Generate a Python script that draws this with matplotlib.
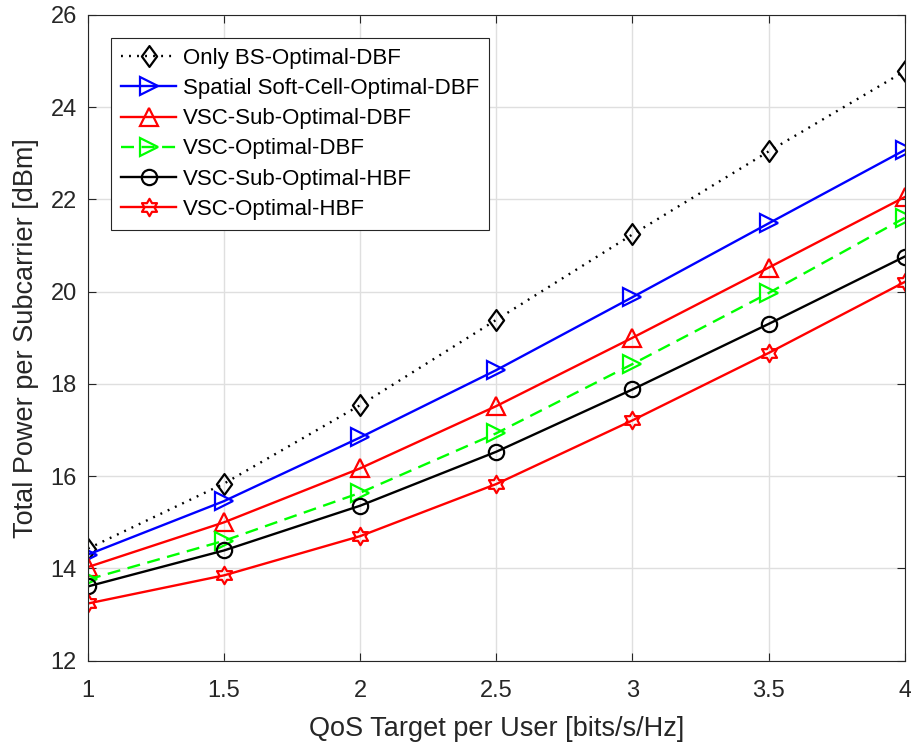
import matplotlib.pyplot as plt
from matplotlib.path import Path
import numpy as np

plt.rcParams['font.family'] = ['Liberation Sans', 'DejaVu Sans']

# QoS target per user [bits/s/Hz]
qos = [1, 1.5, 2, 2.5, 3, 3.5, 4]

# total power per subcarrier [dBm]
only_bs_dbf = [14.43, 15.84, 17.54, 19.39, 21.24, 23.04, 24.78]
soft_cell_dbf = [14.30, 15.46, 16.84, 18.30, 19.88, 21.48, 23.07]
vsc_sub_dbf = [14.03, 15.00, 16.17, 17.52, 19.00, 20.52, 22.05]
vsc_opt_dbf = [13.76, 14.60, 15.64, 16.93, 18.43, 19.97, 21.60]
vsc_sub_hbf = [13.61, 14.39, 15.36, 16.53, 17.88, 19.30, 20.76]
vsc_opt_hbf = [13.24, 13.85, 14.70, 15.83, 17.21, 18.67, 20.21]

labels = ['Only BS-Optimal-DBF', 'Spatial Soft-Cell-Optimal-DBF',
          'VSC-Sub-Optimal-DBF', 'VSC-Optimal-DBF',
          'VSC-Sub-Optimal-HBF', 'VSC-Optimal-HBF']

# six-pointed star outline (two overlapping triangles)
ang = np.deg2rad(90 + 30 * np.arange(12))
rad = np.where(np.arange(12) % 2 == 0, 1.0, 0.577)
verts = np.column_stack([rad * np.cos(ang), rad * np.sin(ang)])
verts = np.vstack([verts, verts[:1]])
hexagram = Path(verts, [Path.MOVETO] + [Path.LINETO] * 11 + [Path.CLOSEPOLY])

# diamond a bit narrower than tall
diamond = Path([(0, 1), (0.73, 0), (0, -1), (-0.73, 0), (0, 1)],
               [Path.MOVETO, Path.LINETO, Path.LINETO, Path.LINETO, Path.CLOSEPOLY])

fig = plt.figure(figsize=(9.12, 7.44), dpi=100)
ax = fig.add_axes([0.0965, 0.112, 0.8955, 0.868])

lw = 1.7
mew = 1.6
ax.plot(qos, only_bs_dbf, color='k', marker=diamond, ms=15, mfc='none', mew=mew, lw=lw,
        dashes=(0.8, 2.6), label=labels[0])
ax.plot(qos, soft_cell_dbf, '-', color='b', marker='>', ms=12.5, mfc='none', mew=mew, lw=lw, label=labels[1])
ax.plot(qos, vsc_sub_dbf, '-', color='r', marker='^', ms=12.5, mfc='none', mew=mew, lw=lw, label=labels[2])
ax.plot(qos, vsc_opt_dbf, color='#00ff00', marker='>', ms=12.5, mfc='none', mew=mew, lw=lw,
        dashes=(5.5, 3.2), label=labels[3])
ax.plot(qos, vsc_sub_hbf, '-', color='k', marker='o', ms=11, mfc='none', mew=mew, lw=lw, label=labels[4])
ax.plot(qos, vsc_opt_hbf, '-', color='r', marker=hexagram, ms=12.5, mfc='none', mew=mew, lw=lw, label=labels[5])

ax.set_xlim(1, 4)
ax.set_ylim(12, 26)
ax.set_xticks([1, 1.5, 2, 2.5, 3, 3.5, 4])
ax.set_xticklabels(['1', '1.5', '2', '2.5', '3', '3.5', '4'])
ax.set_yticks(np.arange(12, 27, 2))
ax.tick_params(direction='in', top=True, right=True, labelsize=17, length=6,
               width=0.8, colors='#262626')
ax.tick_params(axis='x', pad=14)
ax.tick_params(axis='y', pad=8)
ax.grid(True, color='#dfdfdf', lw=1)
ax.set_axisbelow(True)
for s in ax.spines.values():
    s.set_color('#262626')
    s.set_linewidth(0.8)

ax.set_xlabel('QoS Target per User [bits/s/Hz]', fontsize=19.5, color='#262626', labelpad=10)
ax.set_ylabel('Total Power per Subcarrier [dBm]', fontsize=19.5, color='#262626', labelpad=8)

leg = ax.legend(loc='upper left', bbox_to_anchor=(0.028, 0.964), fontsize=16,
                handlelength=2.5, handletextpad=0.3, labelspacing=0.41,
                borderpad=0.45, borderaxespad=0, fancybox=False, framealpha=1)
leg.get_frame().set_edgecolor('#262626')
leg.get_frame().set_linewidth(0.8)

fig.savefig('out.png', dpi=100)
